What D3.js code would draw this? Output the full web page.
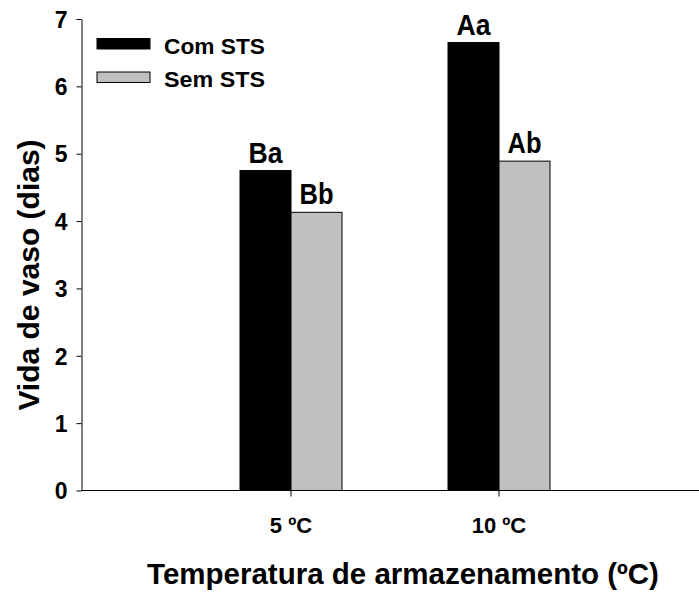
<!DOCTYPE html>
<html>
<head>
<meta charset="utf-8">
<script src="https://cdn.jsdelivr.net/npm/d3@7"></script>
<style>
  html, body { margin: 0; padding: 0; background: #fff; }
  svg { display: block; }
  text { font-family: "Liberation Sans", Arial, sans-serif; font-weight: bold; fill: #000; }
</style>
</head>
<body>
<div id="chart"></div>
<script>
// Vase life (days) by storage temperature, with and without STS
const categories = ["5 ºC", "10 ºC"];
const seriesNames = ["Com STS", "Sem STS"];
const comSTS = [4.75, 6.65];
const semSTS = [4.13, 4.89];
const comLetters = ["Ba", "Aa"];
const semLetters = ["Bb", "Ab"];
const yTicks = [0, 1, 2, 3, 4, 5, 6, 7];
const colors = ["#000000", "#c0c0c0"];

const W = 699, H = 592;
const svg = d3.select("#chart").append("svg").attr("width", W).attr("height", H);

const x0 = 81.5, xEnd = 699, yTop = 19, yBase = 490.5;

const x = d3.scaleBand().domain(categories).range([187, 603]).padding(0);
const xs = d3.scaleBand().domain(seriesNames).range([53, 155]).padding(0);
const y = d3.scaleLinear().domain([0, 7]).range([yBase, yTop]);

const rows = categories.map((c, i) => ({
  cat: c,
  vals: [
    { s: seriesNames[0], v: comSTS[i], lab: comLetters[i], col: colors[0] },
    { s: seriesNames[1], v: semSTS[i], lab: semLetters[i], col: colors[1] }
  ]
}));

// bars
const g = svg.append("g");
const groups = g.selectAll("g.cat").data(rows).join("g")
  .attr("class", "cat")
  .attr("transform", d => `translate(${x(d.cat)},0)`);

groups.selectAll("rect").data(d => d.vals).join("rect")
  .attr("x", d => xs(d.s))
  .attr("width", xs.bandwidth())
  .attr("y", d => y(d.v))
  .attr("height", d => y(0) - y(d.v))
  .attr("fill", d => d.col)
  .attr("stroke", "#000")
  .attr("stroke-width", 1);

groups.selectAll("text.lab").data(d => d.vals).join("text")
  .attr("class", "lab")
  .attr("x", d => xs(d.s) + xs.bandwidth() / 2)
  .attr("y", d => y(d.v) - 8)
  .attr("text-anchor", "middle")
  .attr("font-size", 29)
  .attr("textLength", 34)
  .attr("lengthAdjust", "spacingAndGlyphs")
  .text(d => d.lab);

// y axis
const yAxis = svg.append("g")
  .attr("transform", `translate(${x0},0)`)
  .call(d3.axisLeft(y).tickValues(yTicks).tickFormat(d3.format("d")).tickSize(5).tickSizeOuter(0));
yAxis.select(".domain").attr("stroke", "#000").attr("stroke-width", 1);
yAxis.selectAll(".tick line").attr("stroke", "#000");
yAxis.selectAll(".tick text")
  .attr("x", -14)
  .attr("dy", "0.36em")
  .attr("font-size", 23)
  .style("font-family", "'Liberation Sans', Arial, sans-serif")
  .style("font-weight", "bold");

// x axis
const xAxis = svg.append("g")
  .attr("transform", `translate(0,${yBase})`)
  .call(d3.axisBottom(x).tickSize(6).tickSizeOuter(0));
xAxis.select(".domain").remove();
xAxis.append("line").attr("x1", x0).attr("x2", xEnd).attr("y1", 0).attr("y2", 0)
  .attr("stroke", "#000").attr("stroke-width", 1.2);
xAxis.selectAll(".tick line").attr("stroke", "#000");
xAxis.selectAll(".tick text")
  .attr("y", 42.5)
  .attr("dy", 0)
  .attr("font-size", 22)
  .style("font-family", "'Liberation Sans', Arial, sans-serif")
  .style("font-weight", "bold");

// axis titles
svg.append("text")
  .attr("x", 403).attr("y", 584)
  .attr("text-anchor", "middle")
  .attr("font-size", 29.5)
  .text("Temperatura de armazenamento (ºC)");

svg.append("text")
  .attr("transform", "translate(39,275) rotate(-90)")
  .attr("text-anchor", "middle")
  .attr("font-size", 30)
  .text("Vida de vaso (dias)");

// legend
const legend = svg.append("g").attr("transform", "translate(97,38.5)");
seriesNames.forEach((s, i) => {
  const row = legend.append("g").attr("transform", `translate(0,${i * 33.5})`);
  row.append("rect").attr("x", 0).attr("y", 0).attr("width", 53).attr("height", 10.5)
    .attr("fill", colors[i]).attr("stroke", "#000").attr("stroke-width", 1);
  row.append("text").attr("x", 67).attr("y", 15)
    .attr("font-size", 21.5)
    .attr("textLength", 101)
    .attr("lengthAdjust", "spacingAndGlyphs")
    .text(s);
});
</script>
</body>
</html>
